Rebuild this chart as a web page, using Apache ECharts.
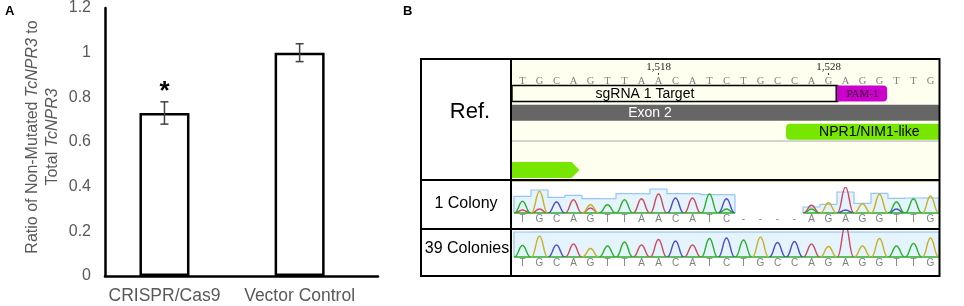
<!DOCTYPE html>
<html>
<head>
<meta charset="utf-8">
<script src="https://cdn.jsdelivr.net/npm/echarts@6/dist/echarts.min.js"></script>
<style>
  html, body { margin: 0; padding: 0; background: #fff; }
  #chart { width: 964px; height: 306px; }
</style>
</head>
<body>
<div id="chart"></div>
<script>
'use strict';

// ---- panel A: bar chart ----
const categories = ['CRISPR/Cas9', 'Vector Control'];
const ratioValues = [0.73, 1.0];
const ratioErrors = [0.05, 0.04];
const significance = ['*', ''];

// ---- panel B: sequence view ----
const refSeq = ['T', 'G', 'C', 'A', 'G', 'T', 'T', 'A', 'A', 'C', 'A', 'T', 'C', 'T', 'G', 'C', 'C', 'A', 'G', 'A', 'G', 'G', 'T', 'T', 'G'];
const colonySeq = ['T', 'G', 'C', 'A', 'G', 'T', 'T', 'A', 'A', 'C', 'A', 'T', 'C', '-', '-', '-', '-', 'A', 'G', 'A', 'G', 'G', 'T', 'T', 'G'];
const rulerPositions = [8, 18];
const rulerLabels = ['1,518', '1,528'];
const rowLabels = ['Ref.', '1 Colony', '39 Colonies'];

const tracks = ['guide', 'exon', 'domain', 'spacer', 'cds'];
const featureNames = ['sgRNA 1 Target', 'PAM-1', 'Exon 2', 'NPR1/NIM1-like', 'CDS'];
const featureStart = [-0.62, 18.5, -0.62, 15.5, -0.62];
const featureEnd = [18.5, 21.45, 24.5, 24.5, 3.35];
const featureTrack = [0, 0, 1, 2, 4];
const featureLabelAt = [7.2, 20, 7.5, 20.4, null];

// chromatogram peak heights (one per base, null = deleted)
const colony1Peaks = [11.7, 21.7, 11, 13.3, 8.3, 8.3, 13.3, 14.3, 19, 15, 15, 19, 14.3, null, null, null, null, 7.7, 10.3, 26, 9.3, 18.7, 11, 14.3, 17];
const colony1Quality = [16.6, 23, 15.6, 17.6, 14.3, 14.3, 19.3, 19.3, 24, 19.3, 19.3, 18.3, 18.3, null, null, null, null, 6, 8.7, 21, 9.7, 19.7, 14.7, 15, 15];
const colony1MinorPos = [0, 1, 4, 12, 17, 19, 22];
const colony1MinorBase = ['A', 'A', 'A', 'T', 'T', 'C', 'C'];
const colony1MinorHeight = [3, 4, 5, 4, 4, 3, 4];
const colony39Peaks = [11.5, 21, 12, 13, 8.5, 11, 15, 12, 17.5, 16, 12, 18.5, 19, 17, 20, 14.5, 15.5, 13, 10.5, 32, 11, 18.5, 11, 13.5, 19];
const colony39Quality = [25, 25, 25, 25, 25, 25, 25, 25, 25, 25, 25, 25, 25, 25, 25, 25, 25, 25, 25, 25, 25, 25, 25, 25, 25];

const SANS = '"Liberation Sans", Arial, sans-serif';
const SERIF = '"Liberation Serif", "Times New Roman", serif';
const BASES = 'ACGT';
const baseColors = ['#CC4A5C', '#4C4CC6', '#C8B020', '#28B028'];

const featureStyle = {
  'sgRNA 1 Target': { fill: '#FFFFF0', stroke: '#000', text: '#000', font: SANS, size: 14 },
  'PAM-1': { fill: '#CC00CC', text: '#2A002A', font: SERIF, size: 11, r: [0, 4, 4, 0] },
  'Exon 2': { fill: '#666666', text: '#fff', font: SANS, size: 14 },
  'NPR1/NIM1-like': { fill: '#77E600', text: '#000', font: SANS, size: 14, r: [4, 0, 0, 4] },
  'CDS': { fill: '#77E600', arrow: 8 }
};

let chart = echarts.init(document.getElementById('chart'));

// ---- render helpers ----
let errorBarItem = function (params, api) {
  const i = api.value(0), v = api.value(1), e = api.value(2);
  const hi = api.coord([i, v + e]), lo = api.coord([i, v - e]);
  const cap = 4;
  const st = { stroke: '#404040', lineWidth: 1.5 };
  return {
    type: 'group',
    children: [
      { type: 'line', shape: { x1: hi[0], y1: hi[1], x2: lo[0], y2: lo[1] }, style: st },
      { type: 'line', shape: { x1: hi[0] - cap, y1: hi[1], x2: hi[0] + cap, y2: hi[1] }, style: st },
      { type: 'line', shape: { x1: lo[0] - cap, y1: lo[1], x2: lo[0] + cap, y2: lo[1] }, style: st }
    ]
  };
};

let peakItem = function (params, api) {
  const x = api.value(0), h = api.value(1), b = api.value(2);
  const l = api.coord([x - 0.48, 0]), t = api.coord([x, h]), r = api.coord([x + 0.48, 0]);
  const d = t[0] - l[0];
  const path = 'M' + l[0] + ',' + l[1] +
    ' C' + (l[0] + d * 0.5) + ',' + l[1] + ' ' + (t[0] - d * 0.45) + ',' + t[1] + ' ' + t[0] + ',' + t[1] +
    ' C' + (t[0] + d * 0.45) + ',' + t[1] + ' ' + (r[0] - d * 0.5) + ',' + r[1] + ' ' + r[0] + ',' + r[1];
  return {
    type: 'path',
    shape: { pathData: path },
    style: { fill: null, stroke: baseColors[b], lineWidth: 1.4 }
  };
};

let qualityItem = function (params, api) {
  const i = api.value(0), q = api.value(1), prev = api.value(2), next = api.value(3);
  const a = api.coord([i - 0.5, q]), b = api.coord([i + 0.5, 0]);
  const pTop = api.coord([i - 0.5, prev])[1];
  const children = [
    { type: 'rect', shape: { x: a[0], y: a[1], width: b[0] - a[0], height: b[1] - a[1] }, style: { fill: '#E4F3FC' } },
    { type: 'polyline', shape: { points: [[a[0], pTop], [a[0], a[1]], [b[0], a[1]]] }, style: { fill: null, stroke: '#94C6F0', lineWidth: 1.2 } },
    { type: 'line', shape: { x1: a[0], y1: b[1], x2: b[0], y2: b[1] }, style: { stroke: '#38B038', lineWidth: 1.6 } }
  ];
  if (next === 0) {
    children.push({ type: 'line', shape: { x1: b[0], y1: a[1], x2: b[0], y2: b[1] }, style: { stroke: '#94C6F0', lineWidth: 1.2 } });
  }
  return { type: 'group', children: children };
};

let featureItem = function (params, api) {
  const idx = api.value(3);
  const name = featureNames[idx];
  const st = featureStyle[name];
  const s = api.coord([api.value(0), api.value(2)]);
  const e = api.coord([api.value(1), api.value(2)]);
  const h = api.size([0, 1])[1] * 0.84;
  const top = s[1] - h / 2;
  const children = [];
  if (st.arrow) {
    children.push({
      type: 'polygon',
      shape: { points: [[s[0], top], [e[0] - st.arrow, top], [e[0], s[1]], [e[0] - st.arrow, top + h], [s[0], top + h]] },
      style: { fill: st.fill }
    });
  } else {
    children.push({
      type: 'rect',
      shape: { x: s[0], y: top, width: e[0] - s[0], height: h, r: st.r || 0 },
      style: { fill: st.fill, stroke: st.stroke || null, lineWidth: 1.5 }
    });
    if (st.stroke) {
      children.push({ type: 'line', shape: { x1: e[0], y1: top - 0.5, x2: e[0], y2: top + h + 0.5 }, style: { stroke: '#000', lineWidth: 3 } });
    }
  }
  if (featureLabelAt[idx] != null) {
    const lx = api.coord([featureLabelAt[idx], api.value(2)])[0];
    children.push({
      type: 'text',
      style: { text: name, x: lx, y: s[1] + 0.5, align: 'center', verticalAlign: 'middle', fontSize: st.size, fontFamily: st.font, fill: st.text }
    });
  }
  return { type: 'group', children: children };
};

let peakData = function (peaks, seq) {
  return peaks.map(function (h, i) { return h == null ? null : [i, h, BASES.indexOf(seq[i])]; })
    .filter(function (d) { return d; });
};
let qualityData = function (qual) {
  return qual.map(function (q, i) {
    return q == null ? null : [i, q, qual[i - 1] == null ? 0 : qual[i - 1], qual[i + 1] == null ? 0 : qual[i + 1]];
  }).filter(function (d) { return d; });
};
let seqIndex = refSeq.map(function (s, i) { return i; });

let seqXAxis = function (gridIndex, position, labels, values, style, margin) {
  return {
    gridIndex: gridIndex, type: 'value', position: position, min: -0.5, max: 24.5,
    axisLine: { show: false, onZero: false }, splitLine: { show: false },
    axisTick: labels ? { show: position === 'top', customValues: values, length: 2, inside: false, lineStyle: { color: '#444', width: 1 } } : { show: false },
    axisLabel: labels ? {
      show: true, customValues: values, margin: margin,
      formatter: function (v) { return labels[values.indexOf(v)]; },
      color: style.color, fontSize: style.size, fontFamily: style.font
    } : { show: false }
  };
};

let hiddenY = function (gridIndex, max) {
  return { gridIndex: gridIndex, type: 'value', min: 0, max: max, show: false, axisLine: { onZero: false }, splitLine: { show: false } };
};

const PB_LEFT = 514, PB_WIDTH = 425;

let option = {
  animation: false,
  backgroundColor: '#fff',
  grid: [
    { left: 105, top: 8, width: 273, height: 268, outerBoundsMode: 'none' },
    { left: PB_LEFT, width: PB_WIDTH, top: 75, height: 1, outerBoundsMode: 'none' },
    { left: PB_LEFT, width: PB_WIDTH, top: 84, height: 95.5, outerBoundsMode: 'none' },
    { left: PB_LEFT, width: PB_WIDTH, top: 187, height: 26, outerBoundsMode: 'none' },
    { left: PB_LEFT, width: PB_WIDTH, top: 230, height: 27, outerBoundsMode: 'none' }
  ],
  xAxis: [
    {
      gridIndex: 0, type: 'value', min: -0.44, max: 1.58,
      axisLine: { onZero: false, lineStyle: { color: '#000', width: 2.5 } },
      axisTick: { show: false }, splitLine: { show: false },
      axisLabel: {
        customValues: [0, 1], margin: 11,
        formatter: function (v) { return categories[v]; },
        color: '#595959', fontSize: 17.5, fontFamily: SANS
      }
    },
    seqXAxis(1, 'top', rulerLabels, rulerPositions, { color: '#222', size: 11, font: SERIF }, 2),
    seqXAxis(1, 'bottom', refSeq, seqIndex, { color: '#808080', size: 10.5, font: SERIF }, 0),
    seqXAxis(2, 'bottom', null, null, null, 0),
    seqXAxis(3, 'bottom', colonySeq, seqIndex, { color: '#808080', size: 10, font: SANS }, 1),
    seqXAxis(4, 'bottom', refSeq, seqIndex, { color: '#808080', size: 10, font: SANS }, 1)
  ],
  yAxis: [
    {
      gridIndex: 0, type: 'value', min: 0, max: 1.2, interval: 0.2,
      axisLine: { show: true, onZero: false, lineStyle: { color: '#000', width: 2.5 } },
      axisTick: { show: false }, splitLine: { show: false },
      axisLabel: { color: '#595959', fontSize: 16, fontFamily: SANS, margin: 14 },
      name: 'Ratio of Non-Mutated {i|TcNPR3} to\nTotal {i|TcNPR3}',
      nameLocation: 'middle', nameRotate: 90, nameGap: 42,
      nameTextStyle: {
        color: '#595959', fontSize: 16, fontFamily: SANS, lineHeight: 20, padding: [0, 0, 0, 10],
        rich: { i: { fontStyle: 'italic', color: '#595959', fontSize: 16, fontFamily: SANS, lineHeight: 20 } }
      }
    },
    hiddenY(1, 1),
    { gridIndex: 2, type: 'category', data: tracks, inverse: true, show: false, axisLine: { onZero: false } },
    hiddenY(3, 26),
    hiddenY(4, 27)
  ],
  series: [
    {
      type: 'bar', xAxisIndex: 0, yAxisIndex: 0, barWidth: 50,
      data: ratioValues.map(function (v, i) { return [i, v]; }),
      itemStyle: { color: '#fff', borderColor: '#000', borderWidth: 2.5 },
      label: {
        show: true, position: 'top', distance: 8,
        formatter: function (p) { return significance[p.dataIndex]; },
        fontSize: 26, fontWeight: 'bold', fontFamily: SANS, color: '#000'
      }
    },
    {
      type: 'custom', xAxisIndex: 0, yAxisIndex: 0, z: 3,
      renderItem: errorBarItem,
      data: ratioValues.map(function (v, i) { return [i, v, ratioErrors[i]]; })
    },
    {
      type: 'custom', xAxisIndex: 3, yAxisIndex: 2, clip: false,
      renderItem: featureItem,
      data: featureNames.map(function (n, i) { return [featureStart[i], featureEnd[i], featureTrack[i], i]; })
    },
    {
      type: 'custom', xAxisIndex: 4, yAxisIndex: 3, clip: false,
      renderItem: qualityItem, data: qualityData(colony1Quality)
    },
    {
      type: 'custom', xAxisIndex: 4, yAxisIndex: 3, clip: true, z: 3,
      renderItem: peakItem,
      data: colony1MinorPos.map(function (p, i) { return [p, colony1MinorHeight[i], BASES.indexOf(colony1MinorBase[i])]; })
    },
    {
      type: 'custom', xAxisIndex: 4, yAxisIndex: 3, clip: true, z: 4,
      renderItem: peakItem, data: peakData(colony1Peaks, colonySeq)
    },
    {
      type: 'custom', xAxisIndex: 5, yAxisIndex: 4, clip: false,
      renderItem: qualityItem, data: qualityData(colony39Quality)
    },
    {
      type: 'custom', xAxisIndex: 5, yAxisIndex: 4, clip: true, z: 4,
      renderItem: peakItem, data: peakData(colony39Peaks, refSeq)
    }
  ],
  graphic: [
    // ref cell background
    { type: 'rect', z: -10, shape: { x: 512, y: 59, width: 427, height: 121 }, style: { fill: '#FFFFF0' } },
    { type: 'line', z: 1, shape: { x1: 512, y1: 141, x2: 939, y2: 141 }, style: { stroke: '#C4C4C4', lineWidth: 1.5 } },
    { type: 'line', z: 1, shape: { x1: 512, y1: 181.5, x2: 939, y2: 181.5 }, style: { stroke: '#CFC890', lineWidth: 1 } },
    // table frame
    { type: 'line', z: 100, shape: { x1: 420, y1: 59, x2: 940, y2: 59 }, style: { stroke: '#000', lineWidth: 2 } },
    { type: 'line', z: 100, shape: { x1: 420, y1: 180, x2: 940, y2: 180 }, style: { stroke: '#000', lineWidth: 2 } },
    { type: 'line', z: 100, shape: { x1: 420, y1: 229, x2: 940, y2: 229 }, style: { stroke: '#000', lineWidth: 2 } },
    { type: 'line', z: 100, shape: { x1: 420, y1: 276, x2: 940, y2: 276 }, style: { stroke: '#000', lineWidth: 2 } },
    { type: 'line', z: 100, shape: { x1: 421, y1: 58, x2: 421, y2: 277 }, style: { stroke: '#000', lineWidth: 2 } },
    { type: 'line', z: 100, shape: { x1: 511, y1: 58, x2: 511, y2: 277 }, style: { stroke: '#000', lineWidth: 2 } },
    { type: 'line', z: 100, shape: { x1: 939.5, y1: 58, x2: 939.5, y2: 277 }, style: { stroke: '#000', lineWidth: 2 } },
    // row labels
    { type: 'text', z: 100, style: { text: rowLabels[0], x: 470, y: 112, align: 'center', verticalAlign: 'middle', fontSize: 22, fontFamily: SANS, fill: '#000' } },
    { type: 'text', z: 100, style: { text: rowLabels[1], x: 466, y: 204, align: 'center', verticalAlign: 'middle', fontSize: 16, fontFamily: SANS, fill: '#000' } },
    { type: 'text', z: 100, style: { text: rowLabels[2], x: 467, y: 249, align: 'center', verticalAlign: 'middle', fontSize: 16, fontFamily: SANS, fill: '#000' } },
    // panel letters
    { type: 'text', z: 100, style: { text: 'A', x: 5, y: 11, verticalAlign: 'middle', fontSize: 13, fontWeight: 'bold', fontFamily: SANS, fill: '#000' } },
    { type: 'text', z: 100, style: { text: 'B', x: 403, y: 11, verticalAlign: 'middle', fontSize: 13, fontWeight: 'bold', fontFamily: SANS, fill: '#000' } }
  ]
};

chart.setOption(option);
</script>
</body>
</html>
